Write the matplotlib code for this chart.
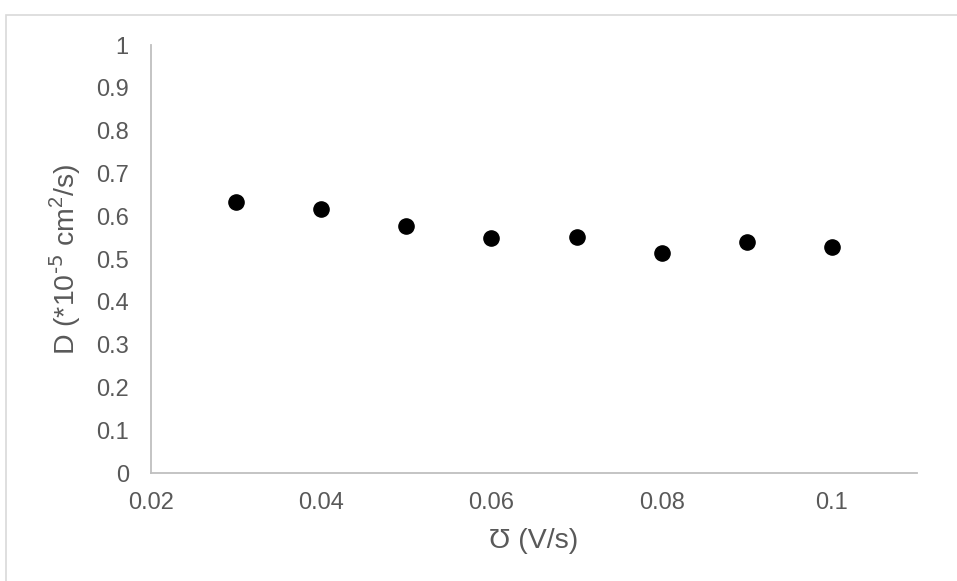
import matplotlib.pyplot as plt
from matplotlib.patches import Rectangle

# datos
scan_rate = [0.03, 0.04, 0.05, 0.06, 0.07, 0.08, 0.09, 0.10]
D = [0.634, 0.617, 0.577, 0.550, 0.551, 0.515, 0.539, 0.529]
xticks = [0.02, 0.04, 0.06, 0.08, 0.1]
xtick_labels = ['0.02', '0.04', '0.06', '0.08', '0.1']
yticks = [0, 0.1, 0.2, 0.3, 0.4, 0.5, 0.6, 0.7, 0.8, 0.9, 1]
ytick_labels = ['0', '0.1', '0.2', '0.3', '0.4', '0.5', '0.6', '0.7', '0.8', '0.9', '1']

plt.rcParams['font.family'] = ['Liberation Sans', 'DejaVu Sans']
plt.rcParams['mathtext.default'] = 'regular'

W, H = 957, 581
fig = plt.figure(figsize=(W / 100, H / 100), dpi=100)
ax = fig.add_axes([151 / W, 1 - 473 / H, (917 - 151) / W, (473 - 45) / H])

# marco del grafico (recortado a la derecha y abajo)
fig.patches.append(Rectangle((5.5 / W, -0.1), 1.2, 1.1 - 15 / H, transform=fig.transFigure,
                             fill=False, edgecolor='#d9d9d9', linewidth=1.2))

ax.scatter(scan_rate, D, s=120, color='black', zorder=3, clip_on=False)

ax.set_xlim(0.02, 0.11)
ax.set_ylim(0, 1)
ax.set_xticks(xticks)
ax.set_xticklabels(xtick_labels)
ax.set_yticks(yticks)
ax.set_yticklabels(ytick_labels)
ax.tick_params(length=0, labelsize=17, labelcolor='#595959')
ax.tick_params(axis='x', pad=14)
ax.tick_params(axis='y', pad=16)

for side in ['top', 'right']:
    ax.spines[side].set_visible(False)
for side in ['left', 'bottom']:
    ax.spines[side].set_color('#bfbfbf')
    ax.spines[side].set_linewidth(1.3)

ax.set_xlabel('Ʊ (V/s)', fontsize=20.5, color='#595959', labelpad=10)
ax.set_ylabel(r'D (*10$^{\text{-5}}$ cm$^{2}$/s)', fontsize=20.5, color='#595959', labelpad=9)

fig.savefig('out.png', dpi=100, facecolor='white')
